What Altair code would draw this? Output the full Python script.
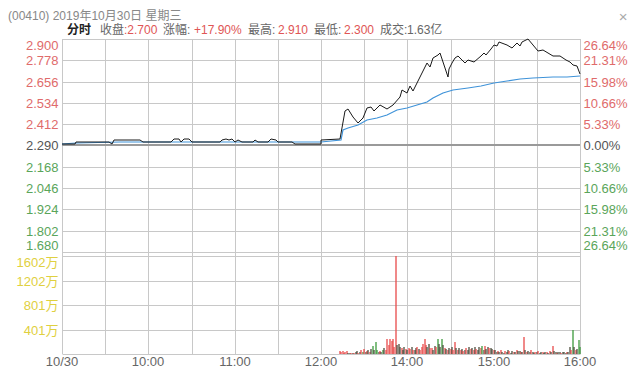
import altair as alt
import pandas as pd

# ---------------- data ----------------
PREV_CLOSE = 2.29

PRICE_TIMES = ["09:00", "09:09", "09:10", "09:33", "09:35", "09:36", "09:54", "09:56", "10:16", "10:18",
               "10:21", "10:23", "10:25", "10:28", "10:30", "10:50", "10:51", "10:54", "10:56", "10:58",
               "11:00", "11:02", "11:05", "11:13", "11:14", "11:16", "11:23", "11:25", "11:29", "11:30",
               "11:40", "11:42", "12:00", "13:00", "13:13", "13:17", "13:19", "13:22", "13:26", "13:29",
               "13:32", "13:35", "13:37", "13:41", "13:46", "13:50", "13:55", "13:56", "14:00", "14:02",
               "14:04", "14:07", "14:10", "14:14", "14:16", "14:18", "14:21", "14:23", "14:25", "14:28",
               "14:29", "14:31", "14:33", "14:35", "14:38", "14:40", "14:42", "14:46", "14:51", "14:53",
               "14:55", "14:58", "15:00", "15:02", "15:04", "15:09", "15:13", "15:16", "15:18", "15:20",
               "15:24", "15:27", "15:31", "15:34", "15:38", "15:41", "15:46", "15:50", "15:53", "15:55",
               "15:58", "16:00"]
PRICE_VALUES = [2.30, 2.30, 2.31, 2.31, 2.30, 2.32, 2.32, 2.31, 2.31, 2.33,
                2.33, 2.31, 2.33, 2.33, 2.31, 2.31, 2.32, 2.33, 2.32, 2.33,
                2.31, 2.32, 2.31, 2.31, 2.32, 2.31, 2.31, 2.33, 2.32, 2.31,
                2.31, 2.30, 2.30, 2.32, 2.33, 2.49, 2.50, 2.455, 2.42, 2.45,
                2.505, 2.51, 2.49, 2.52, 2.50, 2.52, 2.57, 2.61, 2.59, 2.63,
                2.60, 2.65, 2.705, 2.76, 2.74, 2.79, 2.81, 2.82, 2.77, 2.685,
                2.73, 2.76, 2.79, 2.80, 2.78, 2.76, 2.78, 2.77, 2.80, 2.82,
                2.81, 2.84, 2.865, 2.86, 2.88, 2.865, 2.85, 2.875, 2.86, 2.88,
                2.90, 2.865, 2.83, 2.835, 2.82, 2.80, 2.80, 2.78, 2.77, 2.75,
                2.745, 2.70]

AVG_TIMES = ["09:00", "09:10", "09:40", "12:00", "13:00", "13:14", "13:15", "13:19", "13:26", "13:32",
             "13:39", "13:46", "13:53", "14:00", "14:07", "14:14", "14:18", "14:25", "14:32", "14:42",
             "14:51", "15:00", "15:09", "15:18", "15:27", "15:41", "15:51", "16:00"]
AVG_VALUES = [2.300, 2.305, 2.310, 2.312, 2.312, 2.320, 2.380, 2.390, 2.410, 2.435,
              2.450, 2.465, 2.495, 2.505, 2.520, 2.540, 2.560, 2.590, 2.610, 2.620,
              2.630, 2.650, 2.660, 2.670, 2.676, 2.682, 2.685, 2.690]

# one bar per minute starting at 13:13 (volume in 万 shares); r = up, g = down, d = flat
VOL_START = "13:13"
VOL_VALUES = [50, 40, 55, 15, 30, 45, 20,
              15, 10, 15, 20, 35, 55, 20, 30, 60, 40,
              80, 30, 50, 60, 40, 80, 130, 60, 190, 70,
              40, 50, 30, 60, 90, 60, 245, 150, 245, 220,
              245, 120, 1602, 140, 160, 110, 90, 60, 110, 80,
              60, 100, 80, 110, 70, 60, 90, 110, 80, 70,
              120, 164, 245, 140, 120, 160, 90, 100, 70, 130,
              110, 245, 164, 120, 245, 140, 100, 80, 60, 90,
              80, 110, 60, 191, 90, 70, 100, 60, 80, 50,
              70, 90, 60, 110, 80, 100, 60, 120, 80, 70,
              110, 90, 136, 70, 136, 80, 110, 100, 90, 80,
              60, 70, 40, 55, 30, 60, 40, 20, 50, 30,
              60, 45, 20, 55, 40, 30, 70, 45, 50, 30,
              40, 273, 60, 40, 50, 30, 60, 40, 20, 30,
              40, 50, 20, 30, 40, 20, 30, 40, 20, 50,
              30, 136, 50, 30, 20, 30, 40, 20, 30, 40,
              20, 30, 40, 109, 60, 392, 109, 60, 80, 230, 120]
VOL_DIRS = ("rrrrrrd" + "drdrddrdrg" + "rdrdrdgdgg" + "drdgdrrrrr" + "rrrdddrddr" + "drrdrddrdr"
            + "rrrrddrrdd" + "rgddgdrdrd" + "rdrrdrdrdr" + "drddrdrdrd" + "drgdrddrdd" + "rddrdrddrd"
            + "drddrdrddr" + "drdrddrddr" + "drddrddrdr" + "drddrddrdd" + "drddrgdrdgg")

PRICE_TICKS = [1.680, 1.802, 1.924, 2.046, 2.168, 2.290, 2.412, 2.534, 2.656, 2.778, 2.900]
PCT_LABELS = ["26.64%", "21.31%", "15.98%", "10.66%", "5.33%", "0.00%",
              "5.33%", "10.66%", "15.98%", "21.31%", "26.64%"]
VOL_TICKS = [0, 400.5, 801, 1201.5, 1602]
VOL_LABELS = ["", "401万", "801万", "1202万", "1602万"]
X_TICKS = [0, 30, 60, 90, 120, 150, 180, 210, 240, 270, 300, 330, 360]
X_LABELS = ["10/30", "", "10:00", "", "11:00", "", "12:00", "", "14:00", "", "15:00", "", "16:00"]

HEADER = "(00410) 2019年10月30日 星期三"
TITLE_PARTS = [("分时", 67, "#222222", "bold"), ("收盘", 100, "#666666", "normal"),
               (":2.700", 124, "#e05555", "normal"), ("涨幅:", 163, "#666666", "normal"),
               ("+17.90%", 194, "#e05555", "normal"), ("最高:", 248, "#666666", "normal"),
               ("2.910", 278, "#e05555", "normal"), ("最低:", 314, "#666666", "normal"),
               ("2.300", 344, "#e05555", "normal"), ("成交:", 380, "#666666", "normal"),
               ("1.63亿", 407, "#666666", "normal")]


def slot(t):
    h, mm = map(int, t.split(":"))
    mins = h * 60 + mm
    return mins - 540 if mins <= 720 else mins - 780 + 180


price_df = pd.DataFrame({"m": [slot(t) for t in PRICE_TIMES], "price": PRICE_VALUES})
avg_df = pd.DataFrame({"m": [slot(t) for t in AVG_TIMES], "avg": AVG_VALUES})
v0 = slot(VOL_START)
vol_df = pd.DataFrame({"m": [v0 + i for i in range(len(VOL_VALUES))], "vol": VOL_VALUES,
                       "dir": list(VOL_DIRS)})
xgrid_df = pd.DataFrame({"m": X_TICKS})
xlab_df = pd.DataFrame({"m": X_TICKS, "lab": X_LABELS})
xlab_df = xlab_df[xlab_df["lab"] != ""]

# ---------------- style ----------------
FONT = "Liberation Sans, Noto Sans CJK SC"
GRID = "#c8c8c8"
RED_L, GREEN_L, GRAY_L = "#e06b6b", "#5aa55a", "#555555"
YELLOW = "#dfd040"
OX, OY = 62, 39  # page position of plot origin
W, H = 518, 315


def ternary(ticks, labels, k=1000):
    expr = "''"
    for v, l in reversed(list(zip(ticks, labels))):
        expr = f"round(datum.value*{k})=={round(v * k)} ? '{l}' : ({expr})"
    return expr


xs = alt.Scale(domain=[0, 360], nice=False, zero=False, padding=0, round=True)
pys = alt.Scale(domain=[1.68, 2.90], range=[213, 0], nice=False, zero=False, round=True)
vys = alt.Scale(domain=[0, 1602], range=[315, 217], nice=False, zero=True, round=True)

price_color = {"condition": [{"test": "datum.value > 2.2905", "value": RED_L},
                             {"test": "datum.value > 2.2895", "value": GRAY_L}],
               "value": GREEN_L}

xgrid = alt.Chart(xgrid_df).mark_rule(color=GRID, strokeWidth=1, xOffset=0.5).encode(
    x=alt.X("m:Q", scale=xs, axis=None), y=alt.value(0), y2=alt.value(H)
)

xlabels = alt.Chart(xlab_df).mark_text(font=FONT, fontSize=13, color="#666666", baseline="middle").encode(
    x=alt.X("m:Q", scale=xs, axis=None), y=alt.value(323), text="lab:N"
)

base = alt.Chart(pd.DataFrame({"base": [PREV_CLOSE]})).mark_rule(color="#9a9a9a", strokeWidth=2).encode(
    y=alt.Y("base:Q", scale=pys, axis=None), x=alt.value(0), x2=alt.value(W)
)

blue = alt.Chart(avg_df).mark_line(color="#3f93d9", strokeWidth=1.2).encode(
    x=alt.X("m:Q", scale=xs, axis=None),
    y=alt.Y("avg:Q", scale=pys, axis=alt.Axis(
        orient="right", values=PRICE_TICKS, labelExpr=ternary(PRICE_TICKS, PCT_LABELS[::-1]),
        grid=False, domain=False, ticks=False, labelFlush=True, labelOverlap=False,
        labelPadding=3, labelFont=FONT, labelFontSize=13, labelColor=price_color, title=None)),
)

black = alt.Chart(price_df).mark_line(color="#1a1a1a", strokeWidth=1).encode(
    x=alt.X("m:Q", scale=xs, axis=None),
    y=alt.Y("price:Q", scale=pys, axis=alt.Axis(
        orient="left", values=PRICE_TICKS, format=".3f", grid=True, gridColor=GRID, gridWidth=1,
        domain=False, ticks=False, labelFlush=True, labelOverlap=False, labelPadding=4,
        labelFont=FONT, labelFontSize=13, labelColor=price_color, title=None)),
)

price_layer = alt.layer(base, blue, black).resolve_axis(y="independent")

vol = alt.Chart(vol_df).mark_bar(size=1.3).encode(
    x=alt.X("m:Q", scale=xs, axis=None),
    y=alt.Y("vol:Q", scale=vys, axis=alt.Axis(
        orient="left", values=VOL_TICKS, labelExpr=ternary(VOL_TICKS, VOL_LABELS, k=10),
        grid=True, gridColor=GRID, domain=False, ticks=False, labelFlush=True, labelOverlap=False,
        labelPadding=4, labelColor=YELLOW, labelFont=FONT, labelFontSize=13, title=None)),
    color=alt.Color("dir:N", scale=alt.Scale(domain=["r", "g", "d"],
                                              range=["#e84a4a", "#3c9a3c", "#4d4d3d"]), legend=None),
)


def text_layer(s, px, py, color, size=12, weight="normal", baseline="middle", align="left"):
    return alt.Chart(pd.DataFrame({"t": [s]})).mark_text(
        align=align, baseline=baseline, font=FONT, fontSize=size, fontWeight=weight, color=color
    ).encode(x=alt.value(px - OX), y=alt.value(py - OY), text="t:N")


texts = [text_layer(HEADER, 8, 16, "#888888", size=12),
         text_layer("×", 623, 17, "#aaaaaa", size=15, align="center")]
for s, px, col, w in TITLE_PARTS:
    texts.append(text_layer(s, px, 30, col, weight=w))

chart = alt.layer(xgrid, price_layer, vol, xlabels, *texts).resolve_scale(y="independent").properties(
    width=W, height=H,
    autosize=alt.AutoSizeParams(type="none"),
    padding={"left": 54, "top": 31, "right": 52, "bottom": 17},
    background="white",
).configure_view(stroke=None)

chart.save("out.html", embed_options={"renderer": "svg", "actions": False})
